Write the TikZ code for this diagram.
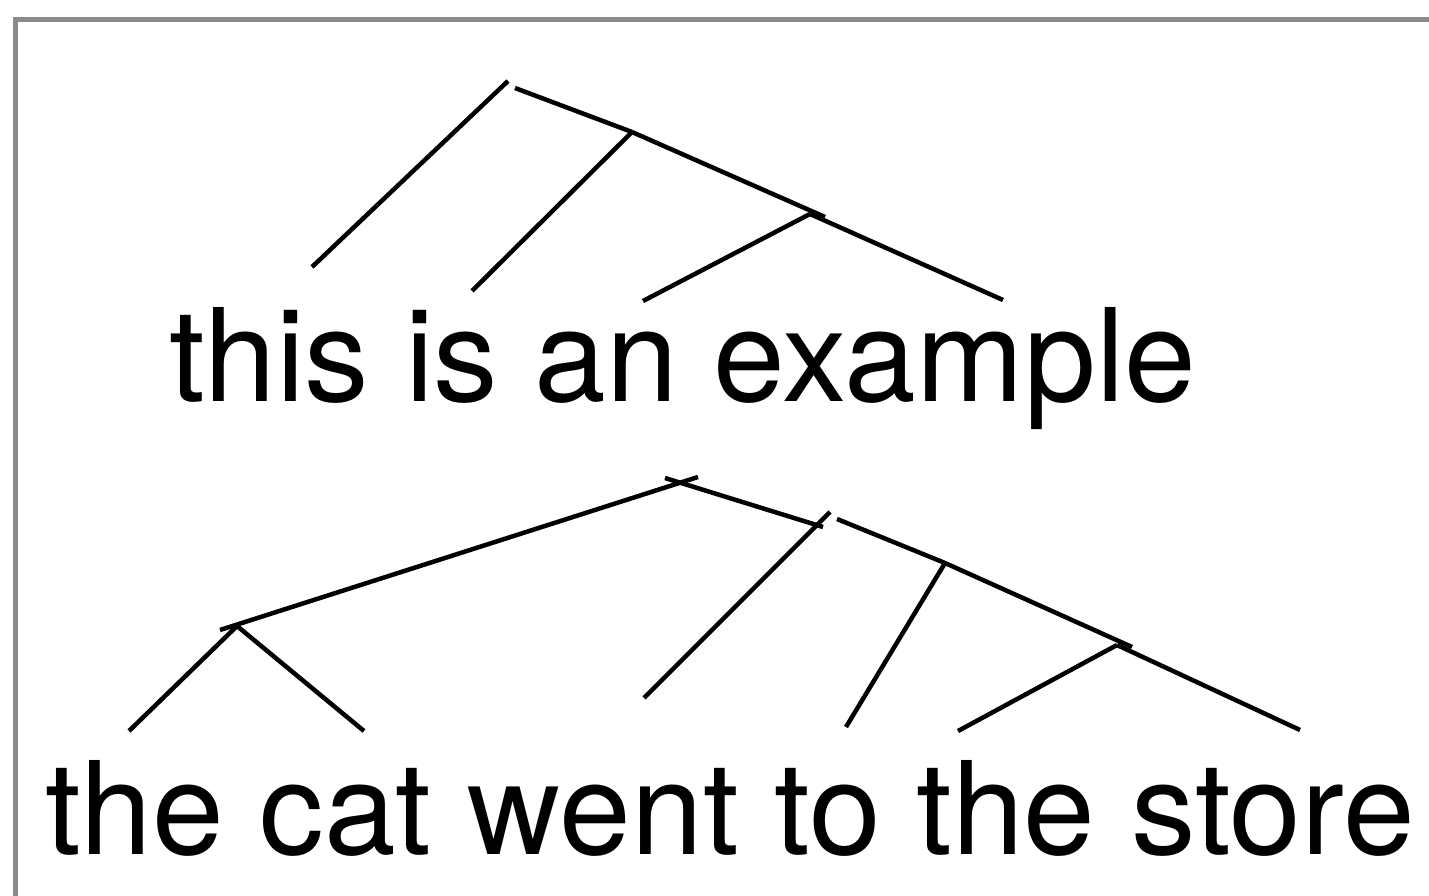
\documentclass[tikz,border=0pt]{standalone}
\usepackage{fontspec}
\setmainfont{TeX Gyre Heros}
\definecolor{framegray}{RGB}{136,139,143}
\begin{document}
\begin{tikzpicture}[x=1pt,y=-1pt,
  branch/.style={line width=4.5pt, draw=black},
  frameline/.style={line width=5pt, draw=framegray, line join=miter},
  sent/.style={font=\fontsize{129}{150}\selectfont, inner sep=0pt, anchor=base}]
\useasboundingbox (0,0) rectangle (1429,896);
% frame
\coordinate (fb) at (15.5,896);
\coordinate (fc) at (15.5,20);
\coordinate (fr) at (1429,20);
\draw[frameline] (fb) -- (fc) -- (fr);
% sentences
\node[sent] (s1) at (683,401) {this is an example};
\node[sent] (s2) at (730,854) {the cat went to the store};
% tree 1
\coordinate (t1l) at (312,267);
\coordinate (t1r) at (508,81);
\coordinate (t1a) at (515,88);
\coordinate (t1n2) at (632,132);
\coordinate (t1is) at (472,291);
\coordinate (t1o) at (825,217);
\coordinate (t1n3) at (810,214);
\coordinate (t1an) at (643,301);
\coordinate (t1ex) at (1003,300);
\draw[branch] (t1l) -- (t1r);
\draw[branch] (t1a) -- (t1n2);
\draw[branch] (t1n2) -- (t1is);
\draw[branch] (t1n2) -- (t1o);
\draw[branch] (t1n3) -- (t1an);
\draw[branch] (t1n3) -- (t1ex);
% tree 2
\coordinate (t2a) at (698,477);
\coordinate (t2b) at (220,630);
\coordinate (t2c) at (665,478);
\coordinate (t2d) at (823,527);
\coordinate (t2np) at (237,626);
\coordinate (t2the) at (129,731);
\coordinate (t2cat) at (364,731);
\coordinate (t2e) at (830,512);
\coordinate (t2went) at (644,698);
\coordinate (t2f) at (837,519);
\coordinate (t2vp) at (945,563);
\coordinate (t2g) at (1132,647);
\coordinate (t2to) at (846,727);
\coordinate (t2pp) at (1117,645);
\coordinate (t2the2) at (958,731);
\coordinate (t2store) at (1300,730);
\draw[branch] (t2a) -- (t2b);
\draw[branch] (t2c) -- (t2d);
\draw[branch] (t2np) -- (t2the);
\draw[branch] (t2np) -- (t2cat);
\draw[branch] (t2e) -- (t2went);
\draw[branch] (t2f) -- (t2vp) -- (t2g);
\draw[branch] (t2vp) -- (t2to);
\draw[branch] (t2pp) -- (t2the2);
\draw[branch] (t2pp) -- (t2store);
\end{tikzpicture}
\end{document}
